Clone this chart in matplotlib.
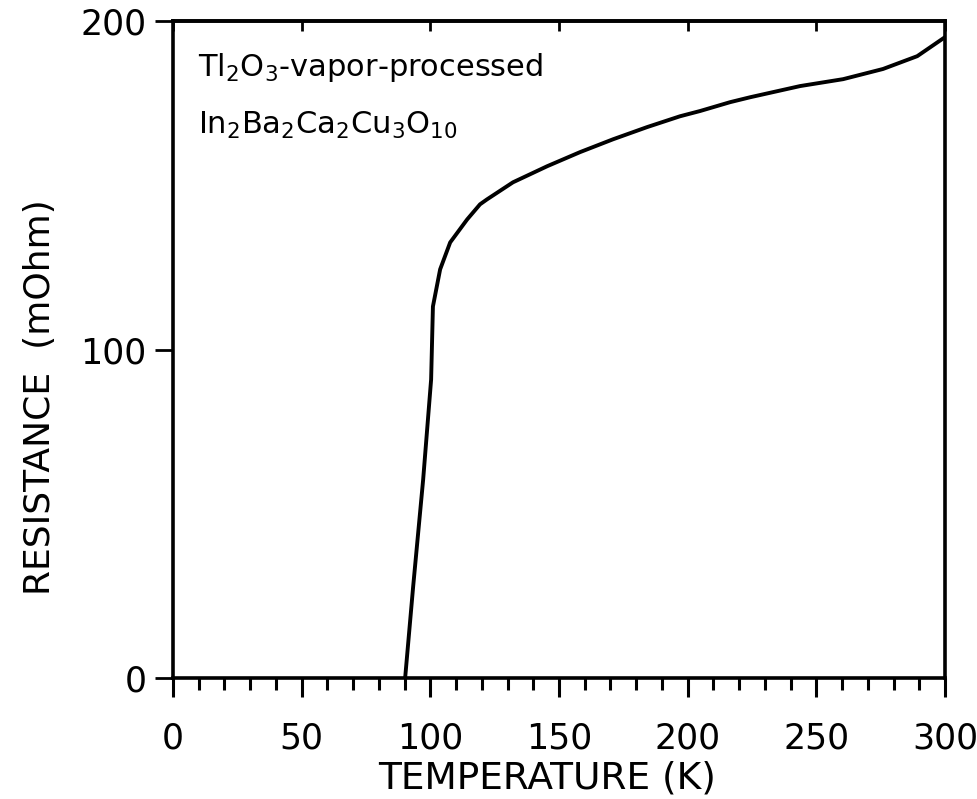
import matplotlib
matplotlib.use("Agg")
import matplotlib.pyplot as plt

# resistance vs temperature
temp_K = [90.2, 93.3, 97.2, 100.3, 101.0, 103.8, 107.7, 114.3, 119.3, 122.0,
          132.1, 145.4, 158.2, 171.0, 184.2, 197.0, 204.8, 216.5, 224.3,
          243.7, 260.4, 275.9, 289.2, 300.0]
res_mohm = [0.0, 27.7, 60.4, 90.9, 113.1, 124.4, 132.6, 139.6, 144.2, 145.7,
            150.9, 155.8, 160.1, 164.0, 167.7, 171.0, 172.6, 175.3, 176.8,
            180.2, 182.3, 185.4, 189.3, 195.1]

x_major = [0, 50, 100, 150, 200, 250, 300]
x_minor = list(range(0, 301, 10))
y_major = [0, 100, 200]

plt.rcParams["font.family"] = ["DejaVu Sans"]

fig = plt.figure(figsize=(9.78, 7.99), dpi=100)
ax = fig.add_axes([0.1769, 0.1514, 0.7894, 0.8223])

ax.plot(temp_K, res_mohm, color="black", lw=2.8, solid_capstyle="round",
        solid_joinstyle="round")

ax.set_xlim(0, 300)
ax.set_ylim(0, 200)
ax.set_xticks(x_major)
ax.set_xticks(x_minor, minor=True)
ax.set_yticks(y_major)

for s in ax.spines.values():
    s.set_linewidth(2.6)

ax.tick_params(axis="x", which="major", direction="out", length=14, width=2.2,
               labelsize=25, pad=17)
ax.tick_params(axis="x", which="minor", direction="out", length=8.5, width=2.2)
ax.tick_params(axis="y", which="major", direction="out", length=13, width=2.0,
               labelsize=25, pad=6)

# short inward ticks along the top frame
top = ax.secondary_xaxis("top")
top.set_xticks(x_major)
top.tick_params(direction="in", length=7, width=2.0, labeltop=False)
top.spines["top"].set_linewidth(2.6)

ax.set_xlabel("TEMPERATURE (K)", fontsize=27)
ax.xaxis.set_label_coords(0.484, -0.126)
ax.set_ylabel("RESISTANCE  (mOhm)", fontsize=26)
ax.yaxis.set_label_coords(-0.15, 0.428)

ax.text(0.032, 0.955, r"Tl$_2$O$_3$-vapor-processed", transform=ax.transAxes,
        fontsize=22, va="top", ha="left")
ax.text(0.032, 0.865, r"In$_2$Ba$_2$Ca$_2$Cu$_3$O$_{10}$", transform=ax.transAxes,
        fontsize=22, va="top", ha="left")

fig.savefig("out.png", dpi=100)
plt.close(fig)
